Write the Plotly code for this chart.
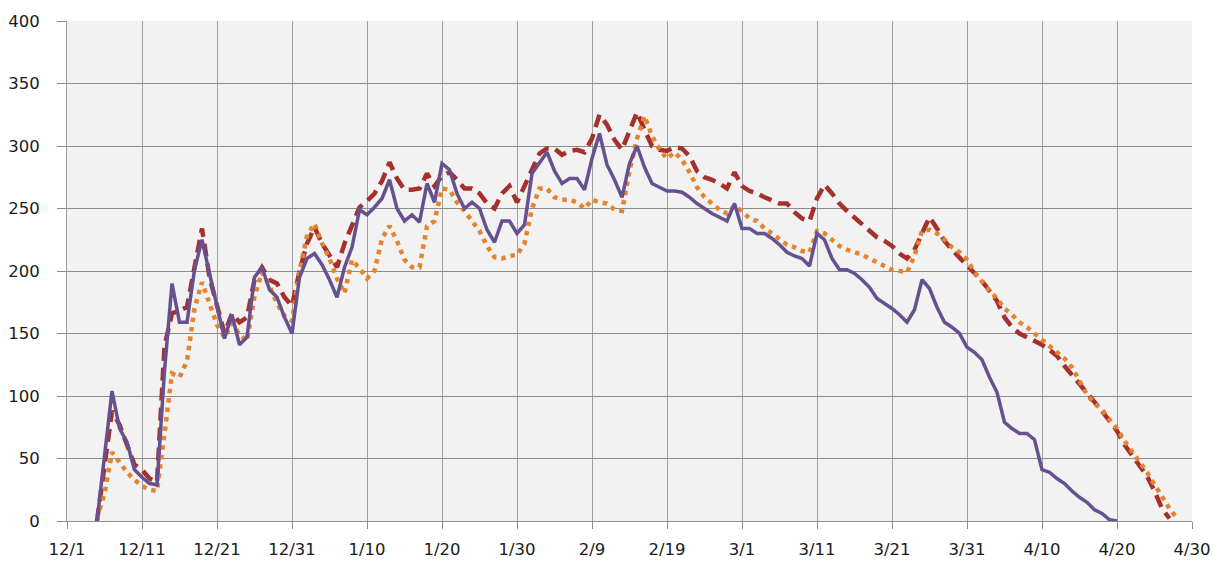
import pandas as pd
import plotly.graph_objects as go

# ---- data (daily values) ----
START_PURPLE = "2018-12-05"
purple_vals = [0, 55, 104, 74, 63, 41, 35, 30, 29, 120, 190, 159, 159, 201, 225, 198, 171, 146, 165, 141,
               147, 195, 203, 185, 179, 163, 150, 195, 210, 214, 205, 193, 179, 203, 219, 249, 245, 251, 258, 273,
               250, 240, 245, 239, 270, 255, 286, 281, 262, 250, 255, 250, 233, 223, 240, 240, 230, 237, 278, 287,
               295, 280, 270, 274, 274, 265, 290, 310, 285, 273, 259, 286, 300, 283, 270, 267, 264, 264, 263, 259,
               254, 250, 246, 243, 240, 254, 234, 234, 230, 230, 226, 221, 215, 212, 210, 204, 230, 225, 210, 201,
               201, 198, 193, 187, 178, 174, 170, 165, 159, 169, 193, 186, 171, 159, 155, 150, 139, 135, 129, 115,
               103, 79, 74, 70, 70, 65, 41, 39, 34, 30, 24, 19, 15, 9, 6, 1, 0]

START_RED = "2018-12-05"
red_vals = [0, 45, 88, 77, 60, 45, 41, 34, 31, 140, 166, 169, 171, 203, 234, 195, 171, 150, 166, 159,
            163, 193, 203, 193, 190, 179, 172, 200, 222, 235, 222, 212, 203, 222, 236, 251, 256, 262, 272, 287,
            274, 265, 265, 266, 278, 268, 276, 279, 273, 266, 266, 262, 254, 250, 262, 268, 255, 268, 283, 294,
            298, 298, 293, 296, 297, 295, 306, 325, 317, 305, 297, 312, 327, 313, 300, 297, 296, 299, 298, 292,
            280, 275, 273, 270, 266, 279, 268, 264, 262, 259, 256, 254, 254, 247, 242, 240, 258, 269, 262, 254,
            248, 243, 238, 232, 227, 224, 220, 214, 210, 217, 230, 243, 234, 224, 217, 211, 205, 199, 192, 184,
            176, 163, 155, 150, 147, 145, 141, 137, 132, 124, 117, 110, 102, 95, 88, 80, 72, 61, 53, 45,
            36, 24, 10, 2]

START_ORANGE = "2018-12-05"
orange_vals = [2, 22, 55, 47, 39, 33, 28, 25, 24, 70, 118, 115, 128, 170, 191, 174, 157, 147, 158, 149,
               144, 180, 199, 188, 174, 164, 160, 200, 228, 238, 222, 210, 194, 182, 209, 202, 194, 200, 226, 236,
               224, 209, 203, 203, 236, 240, 266, 265, 255, 248, 240, 232, 220, 211, 210, 212, 213, 222, 250, 266,
               266, 259, 257, 257, 255, 250, 257, 255, 254, 249, 248, 280, 306, 324, 308, 297, 290, 295, 289, 279,
               267, 259, 254, 249, 246, 252, 248, 242, 240, 234, 230, 225, 221, 219, 216, 215, 232, 230, 225, 220,
               217, 215, 213, 210, 207, 204, 201, 200, 199, 212, 232, 233, 230, 225, 219, 215, 209, 199, 191, 184,
               178, 170, 165, 159, 155, 150, 145, 140, 134, 130, 123, 112, 101, 94, 89, 81, 74, 64, 56, 48,
               39, 29, 19, 10, 2]

TICK_START = "2018-12-01"
TICK_STEP_DAYS = 10
tick_labels = ["12/1", "12/11", "12/21", "12/31", "1/10", "1/20", "1/30", "2/9", "2/19",
               "3/1", "3/11", "3/21", "3/31", "4/10", "4/20", "4/30"]
y_ticks = [0, 50, 100, 150, 200, 250, 300, 350, 400]

# ---- build ----
def dates(start, n):
    return pd.date_range(start, periods=n, freq="D")

tick_dates = pd.date_range(TICK_START, periods=len(tick_labels), freq=f"{TICK_STEP_DAYS}D")

fig = go.Figure()
fig.add_trace(go.Scatter(x=dates(START_RED, len(red_vals)), y=red_vals, mode="lines",
                         line=dict(color="#a5302c", width=4.5, dash="13px,7px"), name="red"))
fig.add_trace(go.Scatter(x=dates(START_ORANGE, len(orange_vals)), y=orange_vals, mode="lines",
                         line=dict(color="#e6832e", width=4.5, dash="4.5px,5px"), name="orange"))
fig.add_trace(go.Scatter(x=dates(START_PURPLE, len(purple_vals)), y=purple_vals, mode="lines",
                         line=dict(color="#67508f", width=3.5), name="purple"))

font = dict(family="DejaVu Sans", size=16.5, color="#1a1a1a")
fig.update_layout(
    width=1214, height=563,
    margin=dict(l=67, r=22, t=21, b=42, autoexpand=False),
    paper_bgcolor="white", plot_bgcolor="#f2f2f2",
    showlegend=False, font=font,
)
fig.update_xaxes(
    type="date", range=[tick_dates[0], tick_dates[-1]],
    tickvals=tick_dates, ticktext=tick_labels, automargin=False,
    showgrid=True, gridcolor="#a0a0a0", gridwidth=1,
    showline=True, linecolor="#8c8c8c", linewidth=1, mirror=False,
    ticks="outside", ticklen=7, tickcolor="#8c8c8c",
    ticklabelstandoff=6, zeroline=False,
)
fig.update_yaxes(
    range=[0, 400], tickvals=y_ticks, automargin=False,
    showgrid=True, gridcolor="#8c8c8c", gridwidth=1.3,
    showline=True, linecolor="#a0a0a0", linewidth=1,
    ticks="outside", ticklen=9, tickcolor="#8c8c8c",
    ticklabelstandoff=14, zeroline=False,
)
# remove the browser's default 8px body margin so the figure fills the window exactly
fig.write_html("out.html",
               config={"displayModeBar": False},
               post_script="document.body.style.margin='0';document.body.style.overflow='hidden';")
